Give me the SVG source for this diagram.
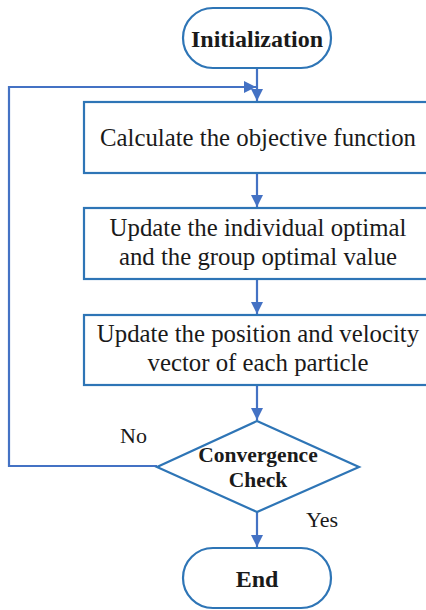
<svg xmlns="http://www.w3.org/2000/svg" width="426" height="610" viewBox="0 0 426 610">
<style>
.shape{fill:#fff;stroke:#2E75B6;stroke-width:2.2}
.conn{fill:none;stroke:#4472C4;stroke-width:2.2}
.t{font-family:"Liberation Serif","Times New Roman",serif;font-size:24.8px;fill:#1a1a1a;text-anchor:middle}
.b{font-weight:bold}
.d{font-size:21.5px}
.lbl{font-family:"Liberation Serif","Times New Roman",serif;font-size:22px;fill:#1a1a1a}
</style>
<defs>
<marker id="arr" viewBox="0 0 12 12" refX="12" refY="6" markerWidth="12" markerHeight="12" markerUnits="userSpaceOnUse" orient="auto">
<path d="M0,0 L12,6 L0,12 Z" fill="#4472C4"/>
</marker>
</defs>
<g id="connectors">
<line class="conn" x1="257" y1="68" x2="257" y2="101" marker-end="url(#arr)"/>
<polyline class="conn" points="157,466 9,466 9,87 256,87" marker-end="url(#arr)"/>
<line class="conn" x1="257" y1="173" x2="257" y2="207" marker-end="url(#arr)"/>
<line class="conn" x1="257" y1="279" x2="257" y2="314" marker-end="url(#arr)"/>
<line class="conn" x1="257" y1="385" x2="257" y2="420" marker-end="url(#arr)"/>
<line class="conn" x1="257" y1="512" x2="257" y2="547" marker-end="url(#arr)"/>
<text class="lbl" x="120" y="443">No</text>
<text class="lbl" x="306" y="527">Yes</text>
</g>
<g id="start">
<rect class="shape" x="183" y="8" width="148" height="60" rx="30"/>
<text class="t b" x="257" y="47" style="font-size:24px">Initialization</text>
</g>
<g id="calc">
<rect class="shape" x="84" y="102" width="346" height="71"/>
<text class="t" x="258" y="146">Calculate the objective function</text>
</g>
<g id="update1">
<rect class="shape" x="84" y="208" width="346" height="71"/>
<text class="t" x="258" y="236">Update the individual optimal</text>
<text class="t" x="258" y="265">and the group optimal value</text>
</g>
<g id="update2">
<rect class="shape" x="84" y="315" width="346" height="70"/>
<text class="t" x="258" y="342">Update the position and velocity</text>
<text class="t" x="258" y="371">vector of each particle</text>
</g>
<g id="check">
<polygon class="shape" points="257,421 359,467 257,512 157,467"/>
<text class="t b d" x="258" y="462">Convergence</text>
<text class="t b d" x="258" y="487">Check</text>
</g>
<g id="end">
<rect class="shape" x="183" y="548" width="148" height="60" rx="30"/>
<text class="t b" x="257" y="587" style="font-size:24px">End</text>
</g>
</svg>
